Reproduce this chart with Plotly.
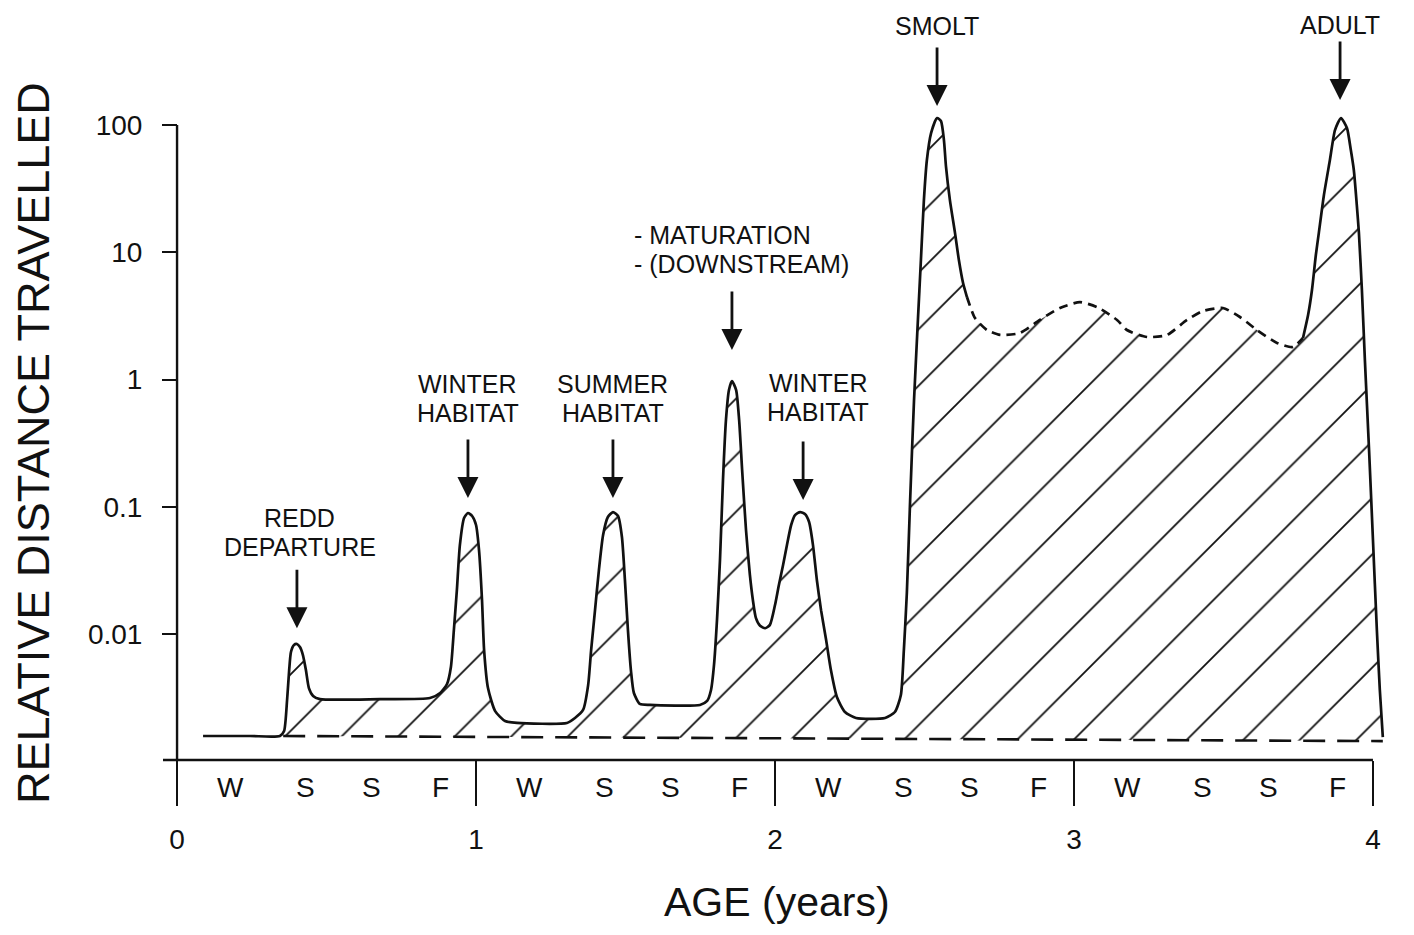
import math
import plotly.graph_objects as go

# ---------------- data ----------------
# solid part of the movement curve (start -> SMOLT peak descent)
solid1_age = [0.087, 0.244, 0.344, 0.358, 0.368, 0.375, 0.381, 0.391, 0.401, 0.411,
              0.421, 0.431, 0.441, 0.455, 0.478, 0.679, 0.846, 0.880, 0.903, 0.916,
              0.926, 0.936, 0.946, 0.960, 0.973, 0.987, 1.000, 1.010, 1.020, 1.027,
              1.040, 1.064, 1.097, 1.137, 1.304, 1.331, 1.358, 1.375, 1.385, 1.398,
              1.411, 1.425, 1.441, 1.458, 1.475, 1.488, 1.498, 1.508, 1.518, 1.528,
              1.548, 1.582, 1.749, 1.773, 1.786, 1.796, 1.806, 1.816, 1.826, 1.836,
              1.846, 1.856, 1.870, 1.880, 1.890, 1.903, 1.916, 1.926, 1.936, 1.950,
              1.967, 1.983, 2.000, 2.013, 2.027, 2.040, 2.054, 2.067, 2.084, 2.100,
              2.114, 2.127, 2.140, 2.154, 2.171, 2.187, 2.207, 2.234, 2.271, 2.368,
              2.401, 2.421, 2.431, 2.441, 2.452, 2.465, 2.478, 2.488, 2.498, 2.508,
              2.522, 2.542, 2.555, 2.565, 2.572, 2.585, 2.602, 2.615, 2.629, 2.642]
solid1_dist = [0.00158, 0.00158, 0.00158, 0.00173, 0.00303, 0.00521, 0.00722, 0.00820, 0.00835, 0.00790,
               0.00684, 0.00521, 0.00376, 0.00326, 0.00308, 0.00308, 0.00314, 0.00344, 0.00405, 0.00551,
               0.0108, 0.0222, 0.0500, 0.0816, 0.0893, 0.0846, 0.0719, 0.0457, 0.0185, 0.00748,
               0.00376, 0.00248, 0.00207, 0.00200, 0.00200, 0.00219, 0.00253, 0.00397, 0.00748, 0.0154,
               0.0318, 0.0600, 0.0831, 0.0909, 0.0846, 0.0579, 0.0266, 0.0108, 0.00521, 0.00344,
               0.00282, 0.00277, 0.00277, 0.00298, 0.00363, 0.00571, 0.0129, 0.0382, 0.162, 0.481,
               0.827, 0.973, 0.827, 0.481, 0.195, 0.0657, 0.0291, 0.0185, 0.0134, 0.0116,
               0.0111, 0.0118, 0.0169, 0.0243, 0.0349, 0.0500, 0.0719, 0.0861, 0.0909, 0.0877,
               0.0759, 0.0500, 0.0266, 0.0154, 0.00897, 0.00521, 0.00320, 0.00244, 0.00219, 0.00219,
               0.00244, 0.00332, 0.00748, 0.0210, 0.113, 0.690, 2.94, 8.69, 25.7, 53.1,
               86.5, 113.5, 107.5, 76.2, 46.8, 25.7, 14.2, 8.69, 5.73, 4.45]

# dashed part (between SMOLT and ADULT)
dashed_age = [2.642, 2.669, 2.709, 2.753, 2.819, 2.886, 2.953, 3.020, 3.077, 3.144,
              3.177, 3.244, 3.311, 3.378, 3.431, 3.498, 3.555, 3.612, 3.679, 3.732, 3.766]
dashed_dist = [4.45, 3.04, 2.45, 2.24, 2.32, 2.94, 3.65, 4.06, 3.71, 2.94,
               2.45, 2.16, 2.24, 2.94, 3.45, 3.65, 3.10, 2.45, 1.94, 1.80, 2.12]

# solid part (ADULT peak)
solid2_age = [3.766, 3.783, 3.796, 3.809, 3.819, 3.836, 3.856, 3.873, 3.893, 3.913,
              3.926, 3.936, 3.946, 3.953, 3.963, 3.973, 3.987, 4.000, 4.013, 4.023, 4.033]
solid2_dist = [2.12, 3.21, 5.05, 9.52, 14.2, 28.2, 53.1, 91.3, 113.5, 94.7,
               63.6, 44.3, 23.5, 14.2, 5.05, 1.42, 0.279, 0.0548, 0.0108, 0.00363, 0.00155]

# dashed baseline (lower edge of hatching)
base_age = [0.355, 4.033]
base_dist = [0.00158, 0.00144]

# events marked by arrows (label lines listed top to bottom)
event_labels = [['REDD', 'DEPARTURE'], ['WINTER', 'HABITAT'], ['SUMMER', 'HABITAT'],
                ['- MATURATION', '- (DOWNSTREAM)'], ['WINTER', 'HABITAT'], ['SMOLT'], ['ADULT']]
event_age = [0.401, 0.973, 1.458, 1.856, 2.094, 2.542, 3.890]
event_tip = [0.0111, 0.117, 0.117, 1.71, 0.113, 141, 157]

seasons = ['W', 'S', 'S', 'F']
years = [0, 1, 2, 3, 4]
y_ticks = [0.01, 0.1, 1, 10, 100]
y_tick_text = ['0.01', '0.1', '1', '10', '100']

# ---------------- styling / layout constants ----------------
FONT = 'Liberation Sans, Arial, sans-serif'
INK = '#111111'
X_RANGE = [-0.047, 4.057]
Y_RANGE = [-2.99, 2.904]          # log10 units
season_offset = [0.18, 0.43, 0.65, 0.88]
label_anchor = ['center', 'center', 'center', 'left', 'center', 'center', 'center']
label_xshift = [3, 0, 0, -100, 15, 0, 0]
label_yshift = [81, 85, 85, 86, 88, 80, 75]   # px from arrow tip to the lowest text line
LINE_GAP = 29


def yfrac(v):
    return (math.log10(v) - Y_RANGE[0]) / (Y_RANGE[1] - Y_RANGE[0])


def xfrac(a):
    return (a - X_RANGE[0]) / (X_RANGE[1] - X_RANGE[0])


curve_age = solid1_age + dashed_age[1:] + solid2_age[1:]
curve_dist = solid1_dist + dashed_dist[1:] + solid2_dist[1:]

fig = go.Figure()

# baseline (dashed)
fig.add_trace(go.Scatter(x=base_age, y=base_dist, mode='lines',
                         line=dict(color=INK, width=2.6, dash='22px,12px'),
                         hoverinfo='skip'))
# hatched area between baseline and curve
fig.add_trace(go.Scatter(x=curve_age, y=curve_dist, mode='lines',
                         line=dict(width=0, shape='spline', smoothing=0.6, color='rgba(0,0,0,0)'),
                         fill='tonexty', fillcolor='rgba(0,0,0,0)',
                         fillpattern=dict(shape='/', size=40, solidity=0.045,
                                          fgcolor=INK, bgcolor='rgba(255,255,255,0)',
                                          fillmode='replace'),
                         hoverinfo='skip'))
# curve outline
fig.add_trace(go.Scatter(x=solid1_age, y=solid1_dist, mode='lines',
                         line=dict(color=INK, width=2.7, shape='spline', smoothing=0.6),
                         hoverinfo='skip'))
fig.add_trace(go.Scatter(x=dashed_age, y=dashed_dist, mode='lines',
                         line=dict(color=INK, width=2.7, shape='spline', smoothing=0.6,
                                   dash='9px,6px'),
                         hoverinfo='skip'))
fig.add_trace(go.Scatter(x=solid2_age, y=solid2_dist, mode='lines',
                         line=dict(color=INK, width=2.7, shape='spline', smoothing=0.6),
                         hoverinfo='skip'))

annotations = []
# arrows and labels
for lines, a, tip, anc, xs, ys in zip(event_labels, event_age, event_tip,
                                      label_anchor, label_xshift, label_yshift):
    annotations.append(dict(x=a, y=math.log10(tip), xref='x', yref='y', text='',
                            showarrow=True, ax=0, ay=-60, arrowhead=2, arrowsize=1.5,
                            arrowwidth=2.8, arrowcolor=INK))
    n = len(lines)
    for i, txt in enumerate(lines):
        annotations.append(dict(x=a, y=math.log10(tip), xref='x', yref='y', text=txt,
                                showarrow=False, yanchor='middle', xanchor=anc,
                                yshift=ys + (n - 1 - i) * LINE_GAP, xshift=xs,
                                font=dict(family=FONT, size=25, color=INK)))

# season labels under the axis
for yr in years[:-1]:
    for s, off in zip(seasons, season_offset):
        annotations.append(dict(x=yr + off, y=-0.036, xref='x', yref='paper', text=s,
                                showarrow=False, xanchor='center', yanchor='middle',
                                font=dict(family=FONT, size=28, color=INK)))

# axis titles
annotations.append(dict(x=0.5, y=-0.1893, xref='paper', yref='paper', text='AGE (years)',
                        showarrow=False, xanchor='center', yanchor='middle',
                        font=dict(family=FONT, size=41, color=INK)))
annotations.append(dict(x=-0.1051, y=0.4227, xref='paper', yref='paper',
                        text='RELATIVE DISTANCE TRAVELLED', textangle=-90,
                        showarrow=False, xanchor='center', yanchor='middle',
                        font=dict(family=FONT, size=45, color=INK)))

shapes = [
    # horizontal axis line
    dict(type='line', xref='x', yref='paper', x0=X_RANGE[0], x1=4.0, y0=0, y1=0,
         line=dict(color=INK, width=2.6)),
    # vertical y axis line (up to 100)
    dict(type='line', xref='x', yref='paper', x0=0, x1=0, y0=0, y1=yfrac(100),
         line=dict(color=INK, width=2.4)),
]

# the page places the figure 8 px from the top-left corner, so the figure is
# sized to fill the remaining window exactly
fig.update_layout(
    width=1398, height=919, autosize=False,
    margin=dict(l=155, r=16, t=2, b=167, autoexpand=False),
    paper_bgcolor='white', plot_bgcolor='white',
    showlegend=False, hovermode=False,
    annotations=annotations, shapes=shapes,
    xaxis=dict(range=X_RANGE, showgrid=False, zeroline=False, showline=False,
               automargin=False,
               tickmode='array', tickvals=years, ticktext=[str(y) for y in years],
               ticks='outside', ticklen=45, tickwidth=2.2, tickcolor=INK,
               ticklabelstandoff=9,
               tickfont=dict(family=FONT, size=28, color=INK)),
    yaxis=dict(type='log', range=Y_RANGE, showgrid=False, zeroline=False, showline=False,
               automargin=False,
               anchor='free', position=xfrac(0),
               tickmode='array', tickvals=y_ticks, ticktext=y_tick_text,
               ticks='outside', ticklen=15, tickwidth=2.2, tickcolor=INK,
               ticklabelstandoff=14,
               tickfont=dict(family=FONT, size=28, color=INK)),
)

fig.write_html('out.html')
